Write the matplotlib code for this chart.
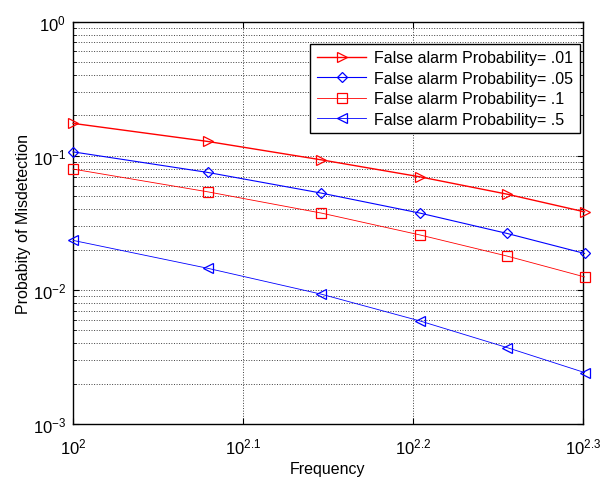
import matplotlib
matplotlib.use("Agg")
import matplotlib.pyplot as plt
import matplotlib.ticker as mticker
import numpy as np

plt.rcParams['font.family'] = ['Liberation Sans', 'DejaVu Sans']
plt.rcParams['mathtext.default'] = 'regular'

# data
freq = [100, 120, 140, 160, 180, 200]
pm_01 = [0.1745, 0.128, 0.0933, 0.0697, 0.0518, 0.0382]
pm_05 = [0.107, 0.0752, 0.0527, 0.0374, 0.0264, 0.0187]
pm_1 = [0.0796, 0.0539, 0.0374, 0.0257, 0.0179, 0.0125]
pm_5 = [0.0234, 0.0145, 0.00929, 0.00587, 0.00372, 0.00242]
labels = ['False alarm Probability= .01', 'False alarm Probability= .05',
          'False alarm Probability= .1', 'False alarm Probability= .5']
x_exps = [2, 2.1, 2.2, 2.3]

fig = plt.figure(figsize=(6.09, 4.81), dpi=100)
ax = fig.add_axes([0.120, 0.1164, 0.837, 0.8364])

curves = [
    (pm_01, 'r', '>', 1.0, 7),
    (pm_05, 'b', 'D', 0.8, 5.5),
    (pm_1, 'r', 's', 0.6, 7),
    (pm_5, 'b', '<', 0.6, 7),
]
for (vals, col, mk, lw, ms), lab in zip(curves, labels):
    ax.plot(freq, vals, color=col, marker=mk, markersize=ms, markerfacecolor='none',
            markeredgecolor=col, markeredgewidth=0.9, linewidth=lw, label=lab,
            clip_on=False, zorder=3)

ax.set_xscale('log')
ax.set_yscale('log')
ax.set_xlim(10**2, 10**2.3)
ax.set_ylim(1e-3, 1)

xt = [10**e for e in x_exps]
ax.xaxis.set_major_locator(mticker.FixedLocator(xt))
ax.xaxis.set_major_formatter(mticker.FixedFormatter([r'$10^{%g}$' % e for e in x_exps]))
ax.xaxis.set_minor_locator(mticker.NullLocator())
ax.yaxis.set_major_locator(mticker.LogLocator(base=10, numticks=10))
ax.yaxis.set_minor_locator(mticker.LogLocator(base=10, subs=np.arange(2, 10), numticks=20))
ax.yaxis.set_minor_formatter(mticker.NullFormatter())

ax.tick_params(which='both', direction='in', top=True, right=True, labelsize=12)
ax.tick_params(which='major', length=4)
ax.tick_params(which='minor', length=2)
ax.tick_params(axis='x', pad=9)
ax.tick_params(axis='y', pad=5)

ax.grid(True, which='major', linestyle=':', color='0.25', linewidth=0.7)
ax.grid(True, which='minor', axis='y', linestyle=':', color='0.25', linewidth=0.7)

for sp in ax.spines.values():
    sp.set_linewidth(1.0)

ax.set_xlabel('Frequency', fontsize=11.5, labelpad=3)
ax.set_ylabel('Probabity of Misdetection', fontsize=11.5, labelpad=1)

leg = ax.legend(loc='upper right', bbox_to_anchor=(0.994, 0.945), borderaxespad=0,
                fontsize=11.5, frameon=True, fancybox=False, edgecolor='black',
                framealpha=1, handlelength=3.1, borderpad=0.4, labelspacing=0.35,
                handletextpad=0.5)
leg.get_frame().set_linewidth(1.0)

fig.savefig('out.png', dpi=100)
